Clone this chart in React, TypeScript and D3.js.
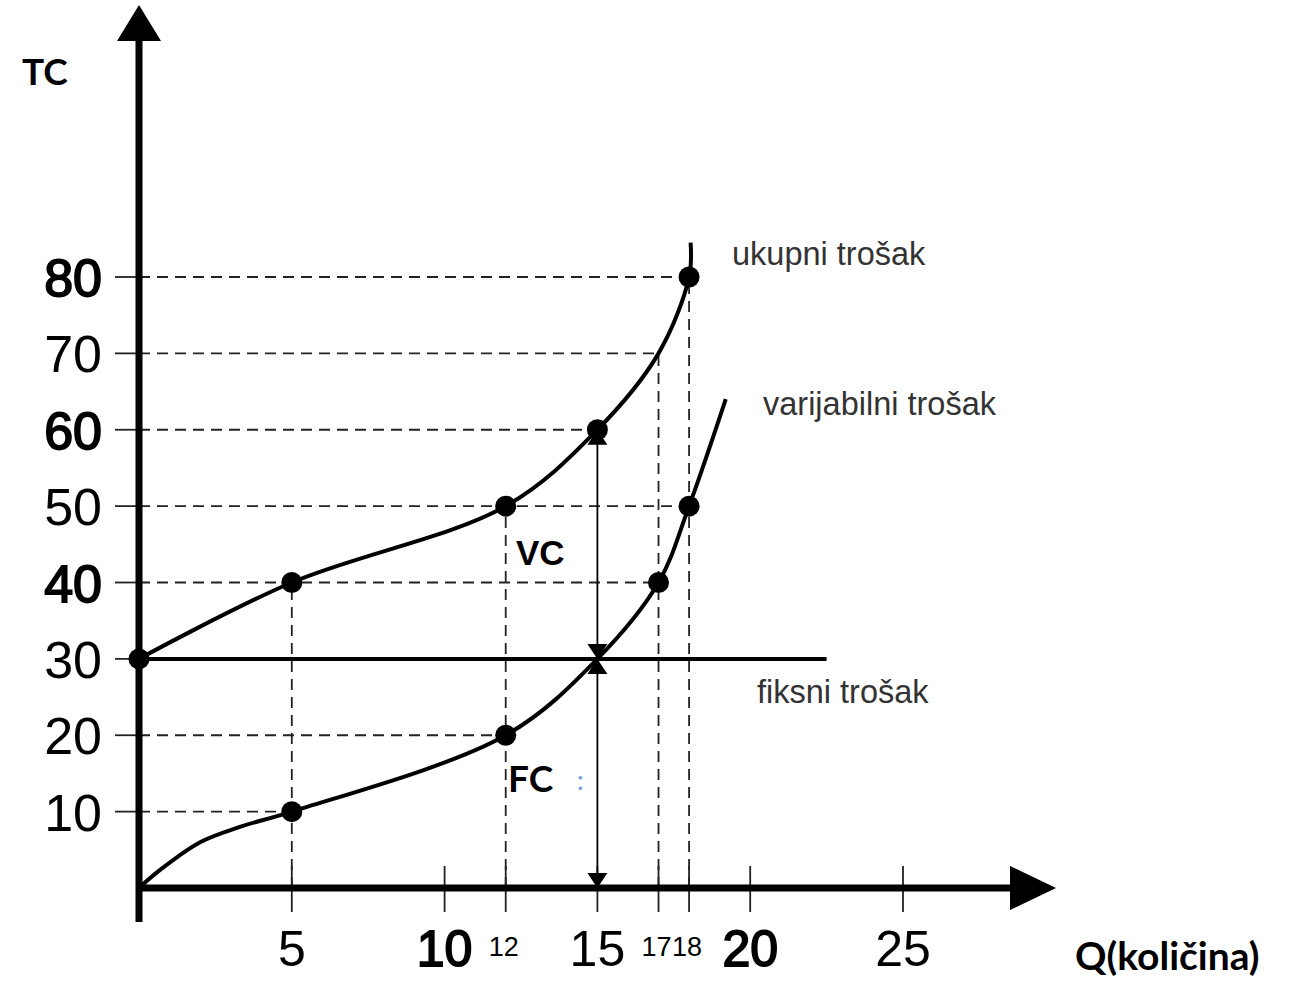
import { useRef, useEffect } from 'react';
import * as d3 from 'd3';

// values
const yTicks = [10, 20, 30, 40, 50, 60, 70, 80];
const yBoldTicks = [40, 60, 80];
const xMainTicks = [5, 10, 15, 20, 25];
const xBoldTicks = [10, 20];
const xSmallTicks = [12, 17, 18];

const fixedCost = 30;
const fcEndQ = 22.5;

// ukupni trošak (total cost)
const tcQ = [0, 5, 12, 15, 17, 18, 18.05];
const tcV = [30, 40, 50, 60, 70, 80, 84.5];
const tcDots = [[0, 30], [5, 40], [12, 50], [15, 60], [18, 80]];

// varijabilni trošak (variable cost)
const vcQ = [0, 0.7, 2, 3.3, 5, 12, 15, 17, 18, 19.2];
const vcV = [0, 2.4, 6, 8, 10, 20, 30, 40, 50, 64];
const vcDots = [[5, 10], [12, 20], [17, 40], [18, 50]];

// dashed guide lines
const hGuides = [[80, 18], [70, 17], [60, 15], [50, 18], [40, 17], [20, 12], [10, 5]];
const vGuides = [[5, 40], [12, 50], [17, 70], [18, 80]];

const arrowQ = 15;

const App = () => {
  const svgRef = useRef<SVGSVGElement>(null);

  useEffect(() => {
    const width = 1294;
    const height = 985;
    const svg = d3.select(svgRef.current);
    svg.selectAll('*').remove();

    const x = d3.scaleLinear().domain([0, 25]).range([139, 903]);
    const y = d3.scaleLinear().domain([0, 80]).range([888, 277]);
    const x0 = x(0);
    const y0 = y(0);

    svg.append('rect').attr('width', width).attr('height', height).attr('fill', 'white');

    // dashed guides
    const dash = '11,7';
    svg.selectAll('line.hg')
      .data(hGuides)
      .enter()
      .append('line')
      .attr('x1', x0)
      .attr('x2', d => x(d[1]))
      .attr('y1', d => y(d[0]))
      .attr('y2', d => y(d[0]))
      .attr('stroke', '#222')
      .attr('stroke-width', 1.8)
      .attr('stroke-dasharray', dash);

    svg.selectAll('line.vg')
      .data(vGuides)
      .enter()
      .append('line')
      .attr('x1', d => x(d[0]))
      .attr('x2', d => x(d[0]))
      .attr('y1', y0)
      .attr('y2', d => y(d[1]))
      .attr('stroke', '#222')
      .attr('stroke-width', 1.8)
      .attr('stroke-dasharray', dash);

    // y ticks (left side)
    svg.selectAll('line.yt')
      .data(yTicks)
      .enter()
      .append('line')
      .attr('x1', x0 - 24)
      .attr('x2', x0)
      .attr('y1', d => y(d))
      .attr('y2', d => y(d))
      .attr('stroke', '#222')
      .attr('stroke-width', 1.8);

    // x ticks
    svg.selectAll('line.xt')
      .data([...xMainTicks, ...xSmallTicks])
      .enter()
      .append('line')
      .attr('x1', d => x(d))
      .attr('x2', d => x(d))
      .attr('y1', y0 - 22)
      .attr('y2', y0 + 24)
      .attr('stroke', '#222')
      .attr('stroke-width', 1.8);

    // fixed cost line
    svg.append('line')
      .attr('x1', x0)
      .attr('x2', x(fcEndQ))
      .attr('y1', y(fixedCost))
      .attr('y2', y(fixedCost))
      .attr('stroke', 'black')
      .attr('stroke-width', 4);

    // VC / FC arrow
    const ax = x(arrowQ);
    svg.append('line')
      .attr('x1', ax)
      .attr('x2', ax)
      .attr('y1', y(60))
      .attr('y2', y0)
      .attr('stroke', 'black')
      .attr('stroke-width', 1.8);

    const tri = (tipX: number, tipY: number, dir: number) => {
      const w = 10, h = 15;
      return `M${tipX},${tipY}L${tipX - w},${tipY - dir * h}L${tipX + w},${tipY - dir * h}Z`;
    };
    [
      [y(60), -1], [y(fixedCost), 1], [y(fixedCost), -1], [y0, 1]
    ].forEach(([ty, dir]) => {
      svg.append('path').attr('d', tri(ax, ty, dir)).attr('fill', 'black');
    });

    // curves
    const line = d3.line<number>()
      .x(d => x(d))
      .curve(d3.curveCatmullRom.alpha(0.5));

    svg.append('path')
      .attr('d', line.y((_, i) => y(tcV[i]))(tcQ))
      .attr('fill', 'none')
      .attr('stroke', 'black')
      .attr('stroke-width', 4);

    svg.append('path')
      .attr('d', line.y((_, i) => y(vcV[i]))(vcQ))
      .attr('fill', 'none')
      .attr('stroke', 'black')
      .attr('stroke-width', 4);

    // dots
    svg.selectAll('circle.dot')
      .data([...tcDots, ...vcDots])
      .enter()
      .append('circle')
      .attr('cx', d => x(d[0]))
      .attr('cy', d => y(d[1]))
      .attr('r', 10.5)
      .attr('fill', 'black');

    // axes
    svg.append('line')
      .attr('x1', x0)
      .attr('x2', x0)
      .attr('y1', 922)
      .attr('y2', 38)
      .attr('stroke', 'black')
      .attr('stroke-width', 7);
    svg.append('path')
      .attr('d', `M${x0},5L${x0 - 22},41L${x0 + 22},41Z`)
      .attr('fill', 'black');

    svg.append('line')
      .attr('x1', x0 - 3)
      .attr('x2', 1015)
      .attr('y1', y0)
      .attr('y2', y0)
      .attr('stroke', 'black')
      .attr('stroke-width', 7);
    svg.append('path')
      .attr('d', `M1056,${y0}L1010,${y0 - 22}L1010,${y0 + 22}Z`)
      .attr('fill', 'black');

    // tick labels
    const numFont = "'Liberation Sans', Arial, sans-serif";
    svg.selectAll('text.yl')
      .data(yTicks)
      .enter()
      .append('text')
      .text(d => d)
      .attr('x', 102)
      .attr('y', d => y(d) + 19)
      .attr('text-anchor', 'end')
      .attr('font-family', numFont)
      .attr('font-size', 52)
      .attr('fill', 'black')
      .attr('stroke', 'black')
      .attr('stroke-width', d => (yBoldTicks.includes(d) ? 1.8 : 0));

    svg.selectAll('text.xl')
      .data(xMainTicks)
      .enter()
      .append('text')
      .text(d => d)
      .attr('x', d => x(d))
      .attr('y', 966)
      .attr('text-anchor', 'middle')
      .attr('font-family', numFont)
      .attr('font-size', 50)
      .attr('fill', 'black')
      .attr('stroke', 'black')
      .attr('stroke-width', d => (xBoldTicks.includes(d) ? 1.8 : 0));

    svg.selectAll('text.xs')
      .data(xSmallTicks)
      .enter()
      .append('text')
      .text(d => d)
      .attr('x', d => x(d) - 2)
      .attr('y', 956)
      .attr('text-anchor', 'middle')
      .attr('font-family', numFont)
      .attr('font-size', 27)
      .attr('fill', 'black');

    // curve labels
    const labels = [
      ['ukupni trošak', 732, 265],
      ['varijabilni trošak', 763, 415],
      ['fiksni trošak', 757, 703],
    ];
    labels.forEach(([t, lx, ly]) => {
      svg.append('text')
        .text(t as string)
        .attr('x', lx)
        .attr('y', ly)
        .attr('font-family', numFont)
        .attr('font-size', 32.5)
        .attr('fill', '#333');
    });

    const boldFont = "Lato, 'Open Sans', sans-serif";
    svg.append('text').text('TC').attr('x', 22).attr('y', 85)
      .attr('font-family', boldFont).attr('font-weight', 'bold').attr('font-size', 37).attr('fill', 'black');
    svg.append('text').text('Q(količina)').attr('x', 1075).attr('y', 970)
      .attr('font-family', boldFont).attr('font-weight', 'bold').attr('font-size', 39).attr('fill', 'black');
    svg.append('text').text('VC').attr('x', 516).attr('y', 565)
      .attr('font-family', numFont).attr('font-weight', 'bold').attr('font-size', 35).attr('fill', 'black');
    svg.append('text').text('FC').attr('x', 508).attr('y', 792)
      .attr('font-family', boldFont).attr('font-weight', 'bold').attr('font-size', 37).attr('fill', 'black');
    svg.append('text').text(':').attr('x', 577).attr('y', 790)
      .attr('font-family', boldFont).attr('font-size', 26).attr('fill', '#6a9ad8');
  }, []);

  return (
    <svg
      ref={svgRef}
      width={1294}
      height={985}
      style={{ position: 'absolute', top: 0, left: 0 }}
    />
  );
};

export default App;
